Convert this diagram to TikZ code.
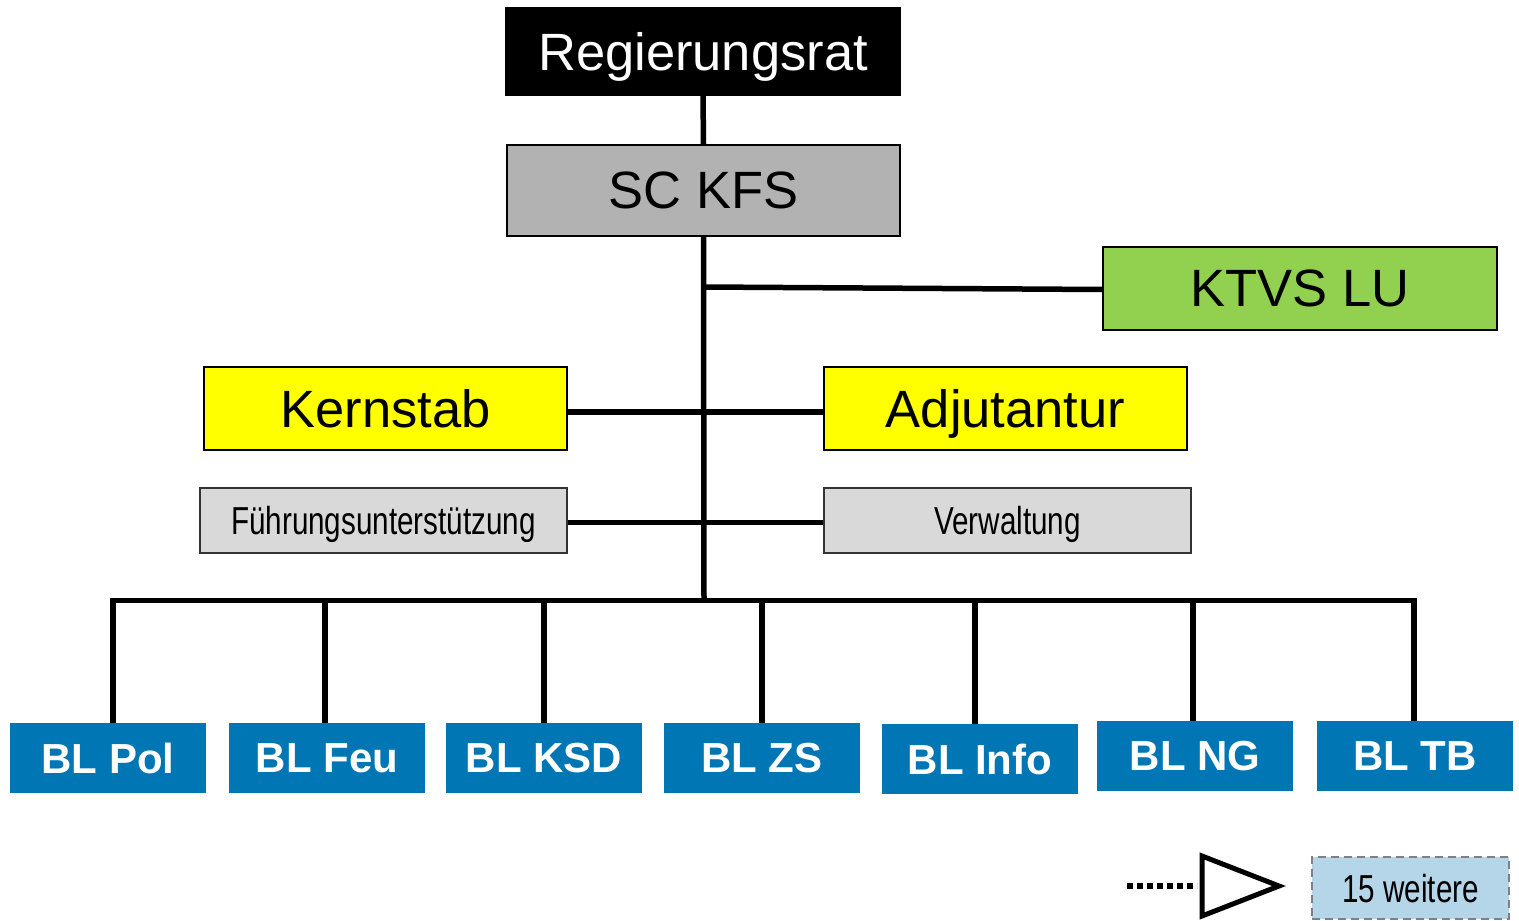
\documentclass[tikz,border=0pt]{standalone}
\usepackage{fontspec}
\setmainfont{Liberation Sans}
\usetikzlibrary{positioning}
\definecolor{scgray}{HTML}{B2B2B2}
\definecolor{ktvsgreen}{HTML}{92D050}
\definecolor{stabyellow}{RGB}{255,255,0}
\definecolor{fugray}{HTML}{D9D9D9}
\definecolor{blblue}{HTML}{0076B4}
\definecolor{weiterblue}{HTML}{B4D6E8}
\tikzset{>=stealth,
  orgbox/.style={draw=black, line width=1.2pt, inner sep=0pt, text depth=0pt, font=\fontsize{52.5}{60}\selectfont},
  smallbox/.style={draw=black!80, line width=1.2pt, fill=fugray, inner sep=0pt, text depth=0pt, minimum width=367, minimum height=65},
  blbox/.style={fill=blblue, text=white, inner sep=0pt, minimum width=196, minimum height=70, font=\fontsize{42}{48}\bfseries\selectfont},
  link/.style={line width=5.5pt}}
\newcommand{\narrowtxt}[1]{\scalebox{0.76}[1]{\fontsize{39}{44}\selectfont #1}}

\begin{document}
\begin{tikzpicture}[x=1pt,y=-1pt]
\useasboundingbox (0,0) rectangle (1519,921);
\node[orgbox, fill=black, text=white, minimum width=394, minimum height=87] (rr) at (703,51.5) {Regierungsrat};
\node[orgbox, fill=scgray, minimum width=393, minimum height=91] (sc) at (703.5,190.5) {SC KFS};
\node[orgbox, fill=ktvsgreen, minimum width=394, minimum height=83] (ktvs) at (1300,288.5) {KTVS LU};
\node[orgbox, fill=stabyellow, minimum width=363, minimum height=83] (kern) at (385.5,408.5) {Kernstab};
\node[orgbox, fill=stabyellow, minimum width=363, minimum height=83] (adj) at (1005.5,408.5) {Adjutantur};
\node[smallbox] (fu) at (383.5,520.5) {\narrowtxt{Führungsunterstützung}};
\node[smallbox] (verw) at (1007.5,520.5) {\narrowtxt{Verwaltung}};
\foreach \name/\txt/\x/\y in {pol/BL Pol/108/758, feu/BL Feu/327/758, ksd/BL KSD/544/758,
  zs/BL ZS/762/758, info/BL Info/980/759, ng/BL NG/1195/756, tb/BL TB/1415/756}
  \node[blbox] (\name) at (\x,\y) {\txt};
\node[draw=gray, dashed, dash pattern=on 8pt off 5pt, line width=1.2pt, fill=weiterblue, inner sep=0pt, text depth=0pt,
  minimum width=197, minimum height=62] (weitere) at (1410.5,888) {\narrowtxt{15 weitere}};

\coordinate (bus) at (704,600.5);
\coordinate (kt) at (704,287);
\draw[link] (rr.south) -- (sc.north);
\draw[link] (sc.south) -- (bus);
\draw[link] (kt) -- ([yshift=-1pt]ktvs.west);
\draw[link] ([yshift=-3.5pt]kern.east) -- ([yshift=-3.5pt]adj.west);
\draw[link] ([yshift=-2pt]fu.east) -- ([yshift=-2pt]verw.west);
\draw[link, line cap=rect] ([xshift=5]pol.north |- bus) -- ([xshift=-1]tb.north |- bus);
\foreach \name/\dx in {pol/5, feu/-2, ksd/0, zs/0, info/-5, ng/-2, tb/-1}
  \draw[link] ([xshift=\dx]\name.north) -- ([xshift=\dx]\name.north |- bus);

\coordinate (tri) at (1197,886);
\draw[line width=5.5pt, dash pattern=on 6pt off 4pt] (1127,886) -- (tri);
\draw[line width=5pt] (1202,856) -- (1202,916) -- (1279,886) -- cycle;
\end{tikzpicture}
\end{document}
